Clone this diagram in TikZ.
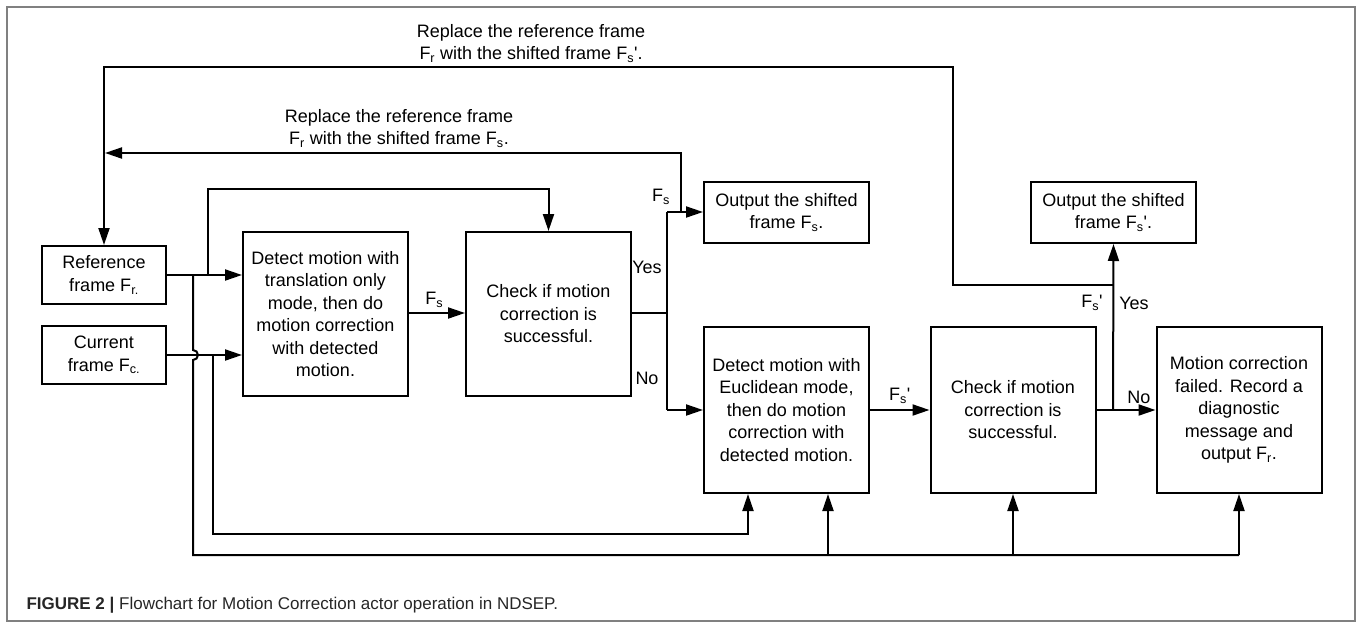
\documentclass[tikz,border=0pt]{standalone}
\usepackage{fontspec}
\setmainfont{Liberation Sans}
\usetikzlibrary{arrows.meta}
\newcommand{\Fsub}[1]{F\textsubscript{#1}}
\newcommand{\prm}{\textquotesingle}
\tikzset{
  box/.style={draw, line width=2pt, align=center, inner sep=0pt},
  flow/.style={line width=2pt, -{Triangle[length=17pt,width=11pt]}},
  wire/.style={line width=2pt},
}
\begin{document}
\begin{tikzpicture}[x=1pt, y=-1pt, font=\fontsize{18}{22.5}\selectfont]
  \useasboundingbox (0,0) rectangle (1360,627);
  % 外框
  \draw[gray, line width=1.5pt] (7,7) rectangle (1355,621);
  % 方框
  \node[box, minimum width=124pt, minimum height=58pt] (ref) at (104,275) {Reference\\frame \Fsub{r.}};
  \node[box, minimum width=124pt, minimum height=58pt] (cur) at (104,355) {Current\\frame \Fsub{c.}};
  \node[box, minimum width=165pt, minimum height=164pt] (det1) at (325.5,314) {Detect motion with\\translation only\\mode, then do\\motion correction\\with detected\\motion.};
  \node[box, minimum width=165pt, minimum height=164pt] (chk1) at (548.5,314) {Check if motion\\correction is\\successful.};
  \node[box, minimum width=165pt, minimum height=61pt] (out1) at (786.5,212.5) {Output the shifted\\frame \Fsub{s}.};
  \node[box, minimum width=165pt, minimum height=61pt] (out2) at (1113.5,212.5) {Output the shifted\\frame \Fsub{s}\prm.};
  \node[box, minimum width=165pt, minimum height=166pt] (det2) at (786.5,410) {Detect motion with\\Euclidean mode,\\then do motion\\correction with\\detected motion.};
  \node[box, minimum width=165pt, minimum height=166pt] (chk2) at (1013,410) {Check if motion\\correction is\\successful.};
  \node[box, minimum width=165pt, minimum height=166pt] (fail) at (1239,410) {Motion correction\\failed. Record a\\diagnostic\\message and\\output \Fsub{r}.};
  % 文字
  \node[align=center] (txtA) at (531,43.5) {Replace the reference frame\\\Fsub{r} with the shifted frame \Fsub{s}\prm.};
  \node[align=center] (txtB) at (399,128.5) {Replace the reference frame\\\Fsub{r} with the shifted frame \Fsub{s}.};
  % 分支点
  \coordinate (yn) at (667,313);
  \coordinate (yesT) at (667,212);
  \coordinate (noB) at (667,410);
  \coordinate (fsUp) at (681,212);
  \coordinate (ok2) at (1113,410);
  \coordinate (ok2T) at (1113,285);
  \coordinate (refUp) at (208,275);
  \coordinate (refDn) at (193,275);
  \coordinate (curDn) at (213,355);
  % 主流程
  \draw[flow] (ref.east) -- (ref.east -| det1.west);
  \draw[flow] (cur.east) -- (cur.east -| det1.west);
  \draw[flow] (det1.east |- yn) -- (chk1.west |- yn) node[pos=0.45, above=1pt] {\Fsub{s}};
  \draw[wire] (chk1.east |- yn) -- (yn);
  \draw[wire] (yesT) -- (noB);
  \draw[flow] (yesT) -- (out1.west |- yesT);
  \draw[flow] (noB) -- (det2.west |- noB);
  \node at (647,267) {Yes};
  \node at (647,378) {No};
  \node at (661,197) {\Fsub{s}};
  \draw[flow] (det2.east) -- (chk2.west) node[midway, above=2pt] {\Fsub{s}\prm};
  \draw[flow] (chk2.east) -- (fail.west) node[pos=0.72, above=2pt] {No};
  \draw[flow] (ok2) -- (out2.south);
  \node at (1092,303) {\Fsub{s}\prm};
  \node at (1134,303) {Yes};
  % 回路
  \draw[flow] (fsUp) -- (681,153) -- (105,153);
  \draw[flow] (ok2T) -- (953,285) -- (953,67) -- (104,67) -- (ref.north);
  \draw[flow] (refUp) -- (208,189) -- (chk1.north |- 0,189) -- (chk1.north);
  % 底部回路
  \draw[wire] (refDn) -- (193,350) arc[start angle=90, end angle=-90, radius=5pt] -- (193,555) -- (1239,555);
  \draw[flow] (fail.south |- 0,555) -- (fail.south);
  \draw[flow] (chk2.south |- 0,555) -- (chk2.south);
  \draw[flow] (828,555) -- (det2.south -| 828,0);
  \draw[flow] (curDn) -- (213,534) -- (748,534) -- (det2.south -| 748,0);
  % 图注
  \node[anchor=west, text=black!85] (cap) at (23,605) {\fontsize{17}{20}\selectfont\textbf{FIGURE 2 |} Flowchart for Motion Correction actor operation in NDSEP.};
\end{tikzpicture}
\end{document}
